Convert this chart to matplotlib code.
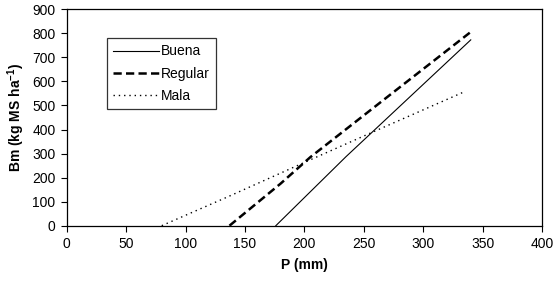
import matplotlib
matplotlib.use("Agg")
from matplotlib import pyplot as plt

# Data
buena_x = [176, 235, 340]
buena_y = [0, 287, 773]

regular_x = [137, 180, 205, 272, 340]
regular_y = [0, 175, 285, 544, 806]

mala_x = [80, 136, 195, 255, 335]
mala_y = [0, 121, 252, 384, 558]

x_ticks = [0, 50, 100, 150, 200, 250, 300, 350, 400]
y_ticks = [0, 100, 200, 300, 400, 500, 600, 700, 800, 900]

plt.rcParams['font.family'] = ['Liberation Sans', 'DejaVu Sans']
plt.rcParams['font.size'] = 10
plt.rcParams['mathtext.fontset'] = 'custom'
plt.rcParams['mathtext.bf'] = 'Liberation Sans:bold'

fig = plt.figure(figsize=(5.6, 2.83), dpi=100)
ax = fig.add_axes([0.119, 0.2025, 0.849, 0.7645])

ax.plot(buena_x, buena_y, color='black', lw=0.8, label='Buena')
ax.plot(regular_x, regular_y, color='black', lw=1.8, dashes=(3.3, 1.7), label='Regular')
ax.plot(mala_x, mala_y, color='black', lw=1.0, dashes=(1, 2.8), label='Mala')

ax.set_xlim(0, 400)
ax.set_ylim(0, 900)
ax.set_xticks(x_ticks)
ax.set_yticks(y_ticks)
ax.tick_params(direction='out', length=4, width=0.8, colors='black', pad=4)
for s in ax.spines.values():
    s.set_linewidth(0.9)

ax.set_xlabel('P (mm)', fontweight='bold', labelpad=5)
ax.set_ylabel('Bm (kg MS ha$^{\\mathbf{-1}}$)', fontweight='bold', labelpad=4)

leg = ax.legend(loc='upper left', bbox_to_anchor=(0.085, 0.867), borderaxespad=0,
                fancybox=False, frameon=True, edgecolor='black', handlelength=3.3,
                handletextpad=0.1, labelspacing=0.6, borderpad=0.45)
leg.get_frame().set_linewidth(0.9)

plt.savefig('out.png', dpi=100)
